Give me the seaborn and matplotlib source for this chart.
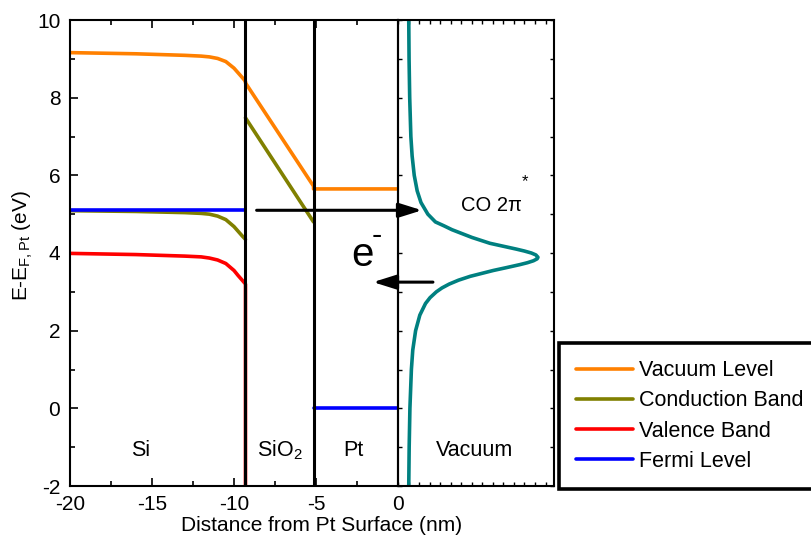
import matplotlib
matplotlib.use("Agg")
import matplotlib.pyplot as plt
import pandas as pd
import seaborn as sns
from matplotlib.lines import Line2D
from matplotlib.ticker import MultipleLocator, NullFormatter

# ---- band diagram data: position (nm) and energy (eV, relative to Pt Fermi level)
si_x = [-20, -16, -13, -12, -11.5, -11, -10.5, -10, -9.75, -9.5, -9.3]
si_vac = [9.16, 9.13, 9.09, 9.07, 9.05, 9.01, 8.93, 8.76, 8.64, 8.52, 8.42]
si_cb = [5.09, 5.07, 5.04, 5.02, 5.00, 4.95, 4.86, 4.68, 4.56, 4.44, 4.35]
si_vb = [3.99, 3.96, 3.92, 3.90, 3.87, 3.82, 3.73, 3.55, 3.42, 3.30, 3.20]
si_fermi = 5.11

sio2_x = [-9.3, -5.15]
sio2_vac = [8.38, 5.72]
sio2_cb = [7.48, 4.80]
sio2_vb = -3.0          # oxide valence band lies below the plotted window

pt_x = [-5.15, 0.0]
pt_vac = 5.65
pt_fermi = 0.0

interfaces = [-9.3, -5.15]

# CO 2pi* resonance in vacuum (density of states, arb. units)
co_energy = [-2, -1, 0, 1.0, 1.5, 2.0, 2.4, 2.7, 2.85, 3.0, 3.1, 3.2, 3.3, 3.4,
             3.55, 3.62, 3.7, 3.75, 3.8, 3.85, 3.89, 3.95, 4.0, 4.05, 4.1, 4.17,
             4.25, 4.4, 4.5, 4.6, 4.7, 4.8, 5.0, 5.3, 5.6, 6.0, 6.5, 7.0, 8.0,
             9.0, 10.0]
co_dos = [0.102, 0.106, 0.113, 0.127, 0.140, 0.167, 0.207, 0.261, 0.304, 0.364,
          0.417, 0.486, 0.574, 0.686, 0.904, 1.023, 1.155, 1.228, 1.285, 1.320,
          1.328, 1.308, 1.265, 1.200, 1.123, 1.006, 0.872, 0.702, 0.607, 0.512,
          0.436, 0.355, 0.283, 0.218, 0.182, 0.154, 0.134, 0.122, 0.111, 0.105,
          0.102]

bands = ["Vacuum Level", "Conduction Band", "Valence Band", "Fermi Level"]
band_colors = ["#FF8000", "#808000", "#FF0000", "#0000FF"]
region_names = ["Si", "SiO$_2$", "Pt", "Vacuum"]
region_x = [-15.7, -7.2, -2.7, 4.65]

# ---- assemble band segments into one long table
rows = []
def add(band, seg, xs, es):
    for xv, ev in zip(xs, es):
        rows.append({"band": band, "seg": seg, "x": xv, "E": ev})

add(bands[0], "vac", si_x + sio2_x + pt_x, si_vac + sio2_vac + [pt_vac, pt_vac])
add(bands[1], "cb_si", si_x, si_cb)
add(bands[1], "cb_ox", sio2_x, sio2_cb)
add(bands[2], "vb", si_x + [si_x[-1]], si_vb + [sio2_vb])
add(bands[3], "ef_si", [si_x[0], si_x[-1]], [si_fermi, si_fermi])
add(bands[3], "ef_pt", pt_x, [pt_fermi, pt_fermi])
df = pd.DataFrame(rows)

sns.set_style("ticks")
plt.rcParams.update({
    "font.family": ["Liberation Sans", "DejaVu Sans"],
    "mathtext.fontset": "custom",
    "mathtext.rm": "Liberation Sans",
    "mathtext.it": "Liberation Sans:italic",
    "axes.unicode_minus": False,
    "axes.edgecolor": "black",
    "axes.linewidth": 1.5,
    "xtick.color": "black",
    "ytick.color": "black",
    "text.color": "black",
})

FS = 15.5
W, H = 812, 535
fig = plt.figure(figsize=(W / 100, H / 100), dpi=100)
fig.patch.set_facecolor("white")

ax_l, ax_b, ax_t = 70, 486, 20
x_zero, x_right = 398, 554
ax = fig.add_axes([ax_l / W, 1 - ax_b / H, (x_zero - ax_l) / W, (ax_b - ax_t) / H])
axv = fig.add_axes([x_zero / W, 1 - ax_b / H, (x_right - x_zero) / W, (ax_b - ax_t) / H])
axv.set_zorder(0)
ax.set_zorder(1)
ax.patch.set_alpha(0)

# ---- bands
sns.lineplot(data=df, x="x", y="E", hue="band", units="seg", estimator=None,
             sort=False, hue_order=bands, palette=band_colors, lw=2.6,
             legend=False, ax=ax, zorder=2)
for xi in interfaces:
    ax.axvline(xi, color="black", lw=2.2, zorder=3)

ax.set_xlim(-20, 0)
ax.set_ylim(-2, 10)
ax.set_xlabel("")
ax.set_ylabel("")
ax.xaxis.set_major_locator(MultipleLocator(5))
ax.xaxis.set_minor_locator(MultipleLocator(2.5))
ax.yaxis.set_major_locator(MultipleLocator(2))
ax.yaxis.set_minor_locator(MultipleLocator(1))
ax.tick_params(which="both", direction="in", top=True, right=False, width=1.2,
               labelsize=15)
ax.tick_params(axis="x", which="both", pad=6.5)
ax.tick_params(axis="y", which="both", pad=7)
ax.tick_params(which="major", length=6)
ax.tick_params(which="minor", length=3.5)

# ---- vacuum panel with the CO 2pi* resonance
sns.lineplot(x=co_dos, y=co_energy, sort=False, estimator=None, color="#008080",
             lw=2.6, ax=axv)
axv.set_xlim(0, 1.48)
axv.set_ylim(-2, 10)
axv.xaxis.set_major_locator(MultipleLocator(0.1))
axv.yaxis.set_major_locator(MultipleLocator(1))
axv.xaxis.set_major_formatter(NullFormatter())
axv.yaxis.set_major_formatter(NullFormatter())
axv.tick_params(which="both", direction="in", top=True, bottom=True, left=True,
                right=True, length=3, width=1.0)
axv.set_xlabel("")
axv.set_ylabel("")

# ---- electron transfer arrows
arrow_kw = dict(arrowstyle="-|>,head_length=0.7,head_width=0.22", color="black",
                lw=2.2, mutation_scale=20, shrinkA=0, shrinkB=0)
ax.annotate("", xy=(1.46, 5.10), xytext=(-8.62, 5.10), arrowprops=arrow_kw,
            annotation_clip=False, zorder=5)
ax.annotate("", xy=(-1.52, 3.25), xytext=(2.13, 3.25), arrowprops=arrow_kw,
            annotation_clip=False, zorder=5)

ax.text(-2.16, 3.94, "e", fontsize=29, ha="center", va="center")
ax.text(-1.28, 4.45, "-", fontsize=22, ha="center", va="center")
ax.text(5.71, 5.23, "CO 2π", fontsize=14.5, ha="center", va="center")
ax.text(7.74, 5.85, "*", fontsize=12, ha="center", va="center")

for name, xr in zip(region_names, region_x):
    ax.text(xr, -1.08, name, fontsize=FS, ha="center", va="center")

# ---- axis titles
fig.text(322 / W, 1 - 531 / H, "Distance from Pt Surface (nm)", fontsize=15,
         ha="center", va="baseline")
fig.text(23 / W, 1 - 246 / H, r"E-E$_{\mathregular{F,Pt}}$ (eV)", fontsize=15,
         ha="center", va="center", rotation=90)

# ---- legend box
handles = [Line2D([], [], color=c, lw=2.6) for c in band_colors]
leg = fig.legend(handles, bands, loc="upper left",
                 bbox_to_anchor=(559 / W, 1 - 343 / H), borderaxespad=0,
                 frameon=True, fancybox=False, edgecolor="black", framealpha=1,
                 fontsize=FS, handlelength=2.65, handletextpad=0.28,
                 borderpad=0.8, labelspacing=0.43)
leg.get_frame().set_linewidth(2.6)

fig.savefig("out.png", dpi=100, facecolor="white")
